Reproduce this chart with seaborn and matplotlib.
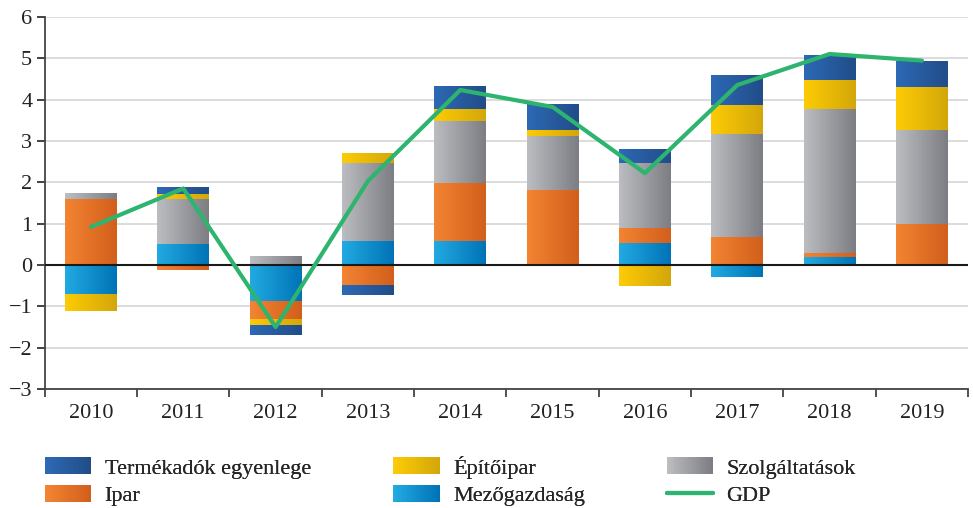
import numpy as np
import pandas as pd
import matplotlib
matplotlib.use("Agg")
import matplotlib.pyplot as plt
import seaborn as sns
from matplotlib.colors import to_rgb
from matplotlib.patches import Patch, Rectangle
from matplotlib.lines import Line2D
from matplotlib.legend_handler import HandlerBase

years = ["2010", "2011", "2012", "2013", "2014", "2015", "2016", "2017", "2018", "2019"]
mezogazdasag = [-0.70, 0.50, -0.87, 0.58, 0.58, 0.00, 0.52, -0.29, 0.19, 0.00]
ipar = [1.60, -0.11, -0.44, -0.48, 1.40, 1.81, 0.37, 0.68, 0.10, 1.00]
szolgaltatasok = [0.14, 1.10, 0.22, 1.89, 1.50, 1.31, 1.58, 2.49, 3.48, 2.26]
epitoipar = [-0.40, 0.12, -0.14, 0.24, 0.29, 0.15, -0.50, 0.70, 0.71, 1.04]
termekadok = [0.00, 0.17, -0.24, -0.25, 0.56, 0.63, 0.34, 0.73, 0.60, 0.62]
gdp = [0.92, 1.85, -1.50, 2.03, 4.23, 3.82, 2.22, 4.35, 5.10, 4.94]

# stacking order from zero outwards, with (light, dark) gradient colours
series = [
    ("Mezőgazdaság", mezogazdasag, ("#22aae2", "#0073b6")),
    ("Ipar", ipar, ("#f38432", "#d25f1c")),
    ("Szolgáltatások", szolgaltatasok, ("#bcbdc1", "#7d7e83")),
    ("Építőipar", epitoipar, ("#fdcb05", "#d3a70a")),
    ("Termékadók egyenlege", termekadok, ("#2d69b5", "#214d88")),
]
colors = {name: cols for name, _, cols in series}
gdp_color = "#2db46e"


def gradient(cols, n=64):
    c0, c1 = np.array(to_rgb(cols[0])), np.array(to_rgb(cols[1]))
    t = np.linspace(0, 1, n)[:, None]
    return c0 * (1 - t) + c1 * t


class GradientHandler(HandlerBase):
    def __init__(self, cols):
        super().__init__()
        self.cols = cols

    def create_artists(self, legend, orig_handle, xdescent, ydescent, width, height,
                       fontsize, trans):
        steps = gradient(self.cols, 24)
        sw = width / len(steps)
        return [Rectangle((-xdescent + i * sw, -ydescent), sw * 1.05, height, facecolor=c,
                          edgecolor="none", transform=trans)
                for i, c in enumerate(steps)]


sns.set_theme(style="white")
plt.rcParams["font.family"] = ["Liberation Serif", "DejaVu Serif"]

fig = plt.figure(figsize=(9.73, 5.08), dpi=100)
ax = fig.add_axes([0.046, 0.234, 0.949, 0.733])

for y in range(-3, 7):
    if y != 0:
        ax.axhline(y, color="#dcdcdc", lw=1.4, zorder=0)

pos_bottom = np.zeros(len(years))
neg_bottom = np.zeros(len(years))
bar_groups = []
for name, vals, cols in series:
    vals = np.array(vals)
    bottom = np.where(vals >= 0, pos_bottom, neg_bottom)
    df = pd.DataFrame({"year": years, "value": vals})
    sns.barplot(data=df, x="year", y="value", color=cols[1], saturation=1,
                width=0.56, bottom=bottom, linewidth=0, ax=ax, zorder=2)
    bar_groups.append((ax.containers[-1], cols))
    pos_bottom += np.where(vals >= 0, vals, 0)
    neg_bottom += np.where(vals < 0, vals, 0)

# horizontal gradient on each bar
for container, cols in bar_groups:
    grad = gradient(cols)[None, :, :]
    for bar in container:
        x0, y0 = bar.get_x(), bar.get_y()
        w, h = bar.get_width(), bar.get_height()
        if h == 0:
            continue
        im = ax.imshow(grad, extent=[x0, x0 + w, min(y0, y0 + h), max(y0, y0 + h)],
                       aspect="auto", interpolation="bilinear", zorder=2.5)
        im.set_clip_path(bar)

ax.axhline(0, color="#1a1a1a", lw=1.5, zorder=3)
sns.lineplot(x=np.arange(len(years)), y=gdp, color=gdp_color, lw=3, ax=ax, zorder=4)

ax.set_xlim(-0.5, len(years) - 0.5)
ax.set_ylim(-3, 6)
ax.set_xticks(np.arange(len(years)))
ax.set_xticklabels(years)
ax.set_xticks(np.arange(-0.5, len(years)), minor=True)
ax.set_yticks(range(-3, 7))
ax.tick_params(axis="x", which="major", length=0, labelsize=16, pad=11, colors="#222222")
ax.tick_params(axis="x", which="minor", length=6, width=1.2, direction="out", color="#333333", bottom=True)
ax.tick_params(axis="y", length=6, width=1.2, direction="out", labelsize=16, pad=3,
               colors="#222222", left=True)
ax.set_xlabel("")
ax.set_ylabel("")
for s in ["top", "right"]:
    ax.spines[s].set_visible(False)
for s in ["left", "bottom"]:
    ax.spines[s].set_color("#444444")
    ax.spines[s].set_linewidth(1.3)

# legend: three columns of two entries
columns = [
    (["Termékadók egyenlege", "Ipar"], 0.028),
    (["Építőipar", "Mezőgazdaság"], 0.386),
    (["Szolgáltatások", "GDP"], 0.667),
]
for names, xpos in columns:
    hs, hmap = [], {}
    for name in names:
        if name == "GDP":
            h = Line2D([], [], color=gdp_color, lw=3, label="GDP")
        else:
            h = Patch(label=name)
            hmap[h] = GradientHandler(colors[name])
        hs.append(h)
    leg = fig.legend(handles=hs, handler_map=hmap, loc="lower left",
                     bbox_to_anchor=(xpos, -0.032), frameon=False, fontsize=16,
                     handlelength=2.08, handleheight=0.8, handletextpad=0.6,
                     labelspacing=0.3, borderpad=0.3)
    fig.add_artist(leg)

fig.savefig("out.png", dpi=100)
